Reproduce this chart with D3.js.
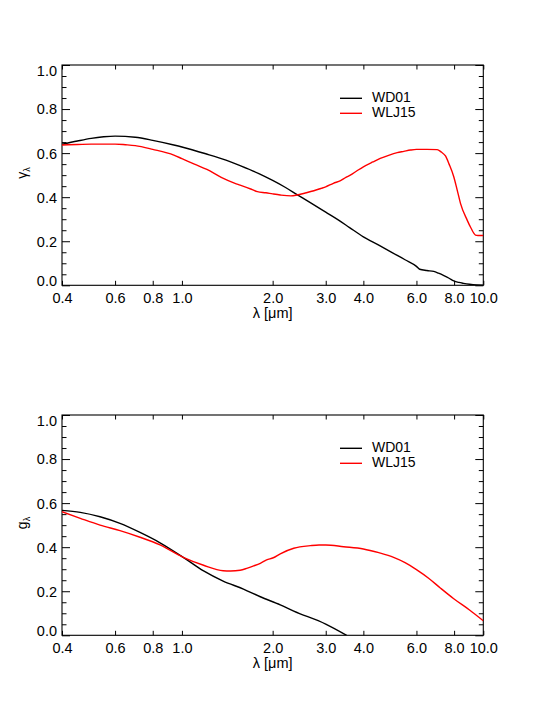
<!DOCTYPE html>
<html>
<head>
<meta charset="utf-8">
<script src="https://cdn.jsdelivr.net/npm/d3@7"></script>
<style>
  body { margin: 0; background: #fff; }
  svg { font-family: "Liberation Sans", Arial, Helvetica, sans-serif; }
</style>
</head>
<body>
<div id="chart"></div>
<script>
// wavelengths (micron) and values
var gamWdLam = [0.4, 0.45, 0.5, 0.55, 0.6, 0.7, 0.8, 0.94, 1.0, 1.2, 1.4, 1.56, 1.8, 2.0, 2.2, 2.41, 2.7, 3.0, 3.3, 3.6, 4.0, 4.5, 5.0, 5.5, 6.0, 6.15, 6.5, 6.85, 7.1, 7.4, 7.7, 7.98, 8.3, 8.6, 9.0, 9.5, 10.0];
var gamWdVal = [0.640, 0.655, 0.667, 0.674, 0.677, 0.672, 0.658, 0.637, 0.628, 0.597, 0.568, 0.543, 0.507, 0.476, 0.445, 0.412, 0.371, 0.332, 0.297, 0.262, 0.220, 0.182, 0.147, 0.116, 0.086, 0.073, 0.067, 0.063, 0.055, 0.044, 0.032, 0.020, 0.013, 0.009, 0.005, 0.002, 0.001];

var gamWljLam = [0.4, 0.45, 0.5, 0.55, 0.6, 0.65, 0.7, 0.8, 0.94, 1.0, 1.1, 1.21, 1.35, 1.5, 1.56, 1.7, 1.78, 1.9, 2.0, 2.12, 2.3, 2.41, 2.55, 2.74, 2.9, 3.0, 3.18, 3.36, 3.5, 3.62, 3.81, 4.0, 4.3, 4.55, 4.85, 5.18, 5.45, 5.73, 6.0, 6.5, 7.03, 7.25, 7.49, 7.7, 7.98, 8.2, 8.4, 8.84, 9.1, 9.42, 9.6, 10.0];
var gamWljVal = [0.637, 0.639, 0.641, 0.641, 0.641, 0.638, 0.634, 0.617, 0.591, 0.575, 0.550, 0.526, 0.490, 0.463, 0.455, 0.436, 0.425, 0.420, 0.415, 0.410, 0.406, 0.410, 0.418, 0.429, 0.440, 0.447, 0.463, 0.475, 0.490, 0.500, 0.520, 0.538, 0.560, 0.576, 0.590, 0.602, 0.608, 0.614, 0.617, 0.617, 0.616, 0.605, 0.587, 0.550, 0.493, 0.430, 0.372, 0.296, 0.260, 0.228, 0.226, 0.226];

var gWdLam = [0.4, 0.46, 0.535, 0.623, 0.726, 0.846, 1.01, 1.18, 1.37, 1.6, 1.82, 2.12, 2.35, 3.0, 3.52];
var gWdVal = [0.567, 0.558, 0.538, 0.508, 0.467, 0.420, 0.354, 0.292, 0.246, 0.210, 0.175, 0.138, 0.110, 0.051, 0.0];

var gWljLam = [0.4, 0.46, 0.535, 0.623, 0.726, 0.846, 1.01, 1.18, 1.37, 1.45, 1.56, 1.65, 1.73, 1.82, 1.91, 2.01, 2.12, 2.35, 2.67, 2.85, 3.0, 3.44, 4.0, 4.5, 5.04, 5.5, 6.0, 6.6, 7.2, 8.0, 9.0, 10.0];
var gWljVal = [0.561, 0.531, 0.500, 0.475, 0.445, 0.410, 0.354, 0.318, 0.293, 0.292, 0.295, 0.305, 0.315, 0.327, 0.342, 0.352, 0.370, 0.395, 0.407, 0.410, 0.410, 0.402, 0.392, 0.375, 0.354, 0.330, 0.298, 0.258, 0.215, 0.165, 0.115, 0.066];

var xTicks = [0.4, 0.6, 0.8, 1.0, 2.0, 3.0, 4.0, 6.0, 8.0, 10.0];
var yTicks = [0.0, 0.2, 0.4, 0.6, 0.8, 1.0];
var yMinor = [0.05, 0.1, 0.15, 0.25, 0.3, 0.35, 0.45, 0.5, 0.55, 0.65, 0.7, 0.75, 0.85, 0.9, 0.95];
var seriesNames = ["WD01", "WLJ15"];
var seriesColors = ["#000000", "#ff0000"];

var W = 545, H = 701;
var left = 62, right = 483.3, plotH = 220.3;

var svg = d3.select("#chart").append("svg")
    .attr("width", W)
    .attr("height", H);

var x = d3.scaleLog().domain([0.4, 10]).range([left, right]);

function zip(lam, val) {
  return lam.map(function(d, i){ return {lam: d, v: val[i]}; });
}

function panel(top, ySym, series, id) {
  var y = d3.scaleLinear().domain([0, 1]).range([top + plotH, top]);
  var g = svg.append("g");

  svg.append("clipPath").attr("id", "clip" + id)
    .append("rect")
    .attr("x", left).attr("y", top)
    .attr("width", right - left).attr("height", plotH);

  // ticks point inward; only bottom and left get labels
  g.append("g").attr("transform", "translate(0," + (top + plotH) + ")")
    .call(d3.axisBottom(x).tickValues(xTicks).tickSize(-4.5).tickPadding(7.5)
      .tickFormat(d3.format(".1f")));
  g.append("g").attr("transform", "translate(0," + top + ")")
    .call(d3.axisTop(x).tickValues(xTicks).tickSize(-4.5).tickFormat(""));
  var yl = g.append("g").attr("transform", "translate(" + left + ",0)")
    .call(d3.axisLeft(y).tickValues(yTicks).tickSize(-8).tickPadding(5)
      .tickFormat(d3.format(".1f")));
  g.append("g").attr("transform", "translate(" + left + ",0)")
    .call(d3.axisLeft(y).tickValues(yMinor).tickSize(-4.5).tickFormat(""));
  g.append("g").attr("transform", "translate(" + right + ",0)")
    .call(d3.axisRight(y).tickValues(yTicks).tickSize(-8).tickFormat(""));
  g.append("g").attr("transform", "translate(" + right + ",0)")
    .call(d3.axisRight(y).tickValues(yMinor).tickSize(-4.5).tickFormat(""));

  g.selectAll(".domain").remove();
  g.selectAll(".tick line").attr("stroke", "#000").attr("stroke-width", 1);
  g.selectAll(".tick text")
    .attr("font-size", 14.5)
    .attr("font-family", "'Liberation Sans', Arial, sans-serif")
    .attr("fill", "#000");

  // end labels kept inside the axis range
  yl.selectAll(".tick text").attr("dy", function(d){
    if (d === 0) return "-0.02em";
    if (d === 1) return "0.7em";
    return "0.34em";
  });

  g.append("rect")
    .attr("x", left).attr("y", top)
    .attr("width", right - left).attr("height", plotH)
    .attr("fill", "none").attr("stroke", "#000").attr("stroke-width", 1.1);

  var line = d3.line()
    .x(function(d){ return x(d.lam); })
    .y(function(d){ return y(d.v); })
    .curve(d3.curveMonotoneX);

  series.forEach(function(s, i){
    svg.append("path")
      .datum(s)
      .attr("clip-path", "url(#clip" + id + ")")
      .attr("d", line)
      .attr("fill", "none")
      .attr("stroke", seriesColors[i])
      .attr("stroke-width", 1.4);
  });

  // legend
  seriesNames.forEach(function(name, i){
    var ly = top + 33.3 + i * 15;
    svg.append("line")
      .attr("x1", 340).attr("x2", 362)
      .attr("y1", ly).attr("y2", ly)
      .attr("stroke", seriesColors[i]).attr("stroke-width", 1.4);
    svg.append("text")
      .attr("x", 372).attr("y", ly + 3.5)
      .attr("font-size", 14)
      .text(name);
  });

  // axis titles
  svg.append("text")
    .attr("x", (left + right) / 2)
    .attr("y", top + plotH + 33)
    .attr("text-anchor", "middle")
    .attr("font-size", 14.5)
    .text("\u03bb [\u03bcm]");

  var yt = svg.append("text")
    .attr("transform", "translate(27," + (top + 108) + ") rotate(-90)")
    .attr("text-anchor", "middle")
    .attr("font-size", 14);
  yt.append("tspan").text(ySym);
  yt.append("tspan").attr("font-size", 9).attr("dy", 3).text("\u03bb");
}

panel(65, "\u03b3", [zip(gamWdLam, gamWdVal), zip(gamWljLam, gamWljVal)], 1);
panel(415, "g", [zip(gWdLam, gWdVal), zip(gWljLam, gWljVal)], 2);
</script>
</body>
</html>
